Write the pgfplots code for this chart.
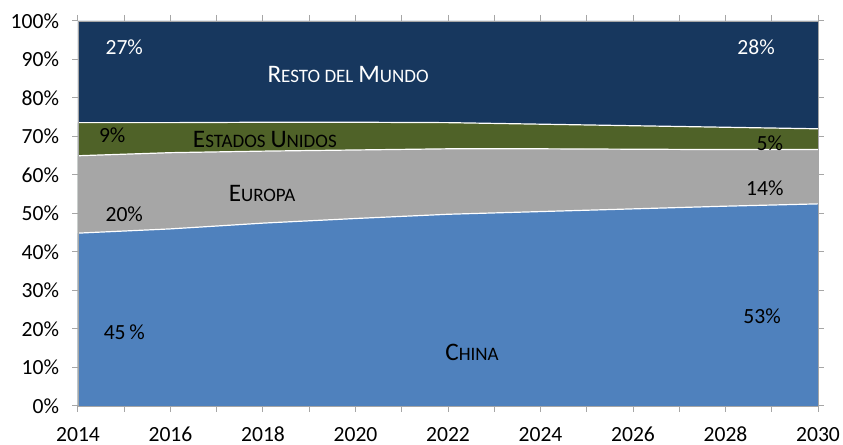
\documentclass[border=0pt]{standalone}
\usepackage{pgfplots}
\usepackage{pgfplotstable}
\pgfplotsset{compat=1.18}
\usepackage{fontspec}
\setmainfont{Carlito}
\definecolor{china}{RGB}{79,129,189}
\definecolor{europa}{RGB}{166,166,166}
\definecolor{eeuu}{RGB}{79,98,40}
\definecolor{resto}{RGB}{23,55,94}
\newcommand{\fsc}[2]{{\fontsize{12.6}{14}\selectfont #1}{\fontsize{9.5}{11}\selectfont #2}}
% cumulative tops of each band (%)
\pgfplotstableread{
year china europa eeuu resto
2014 44.9 65.0 73.6 100
2016 46.0 65.8 73.6 100
2018 47.5 66.2 73.7 100
2020 48.7 66.5 73.7 100
2022 49.8 66.8 73.6 100
2024 50.5 66.8 73.2 100
2026 51.2 66.7 72.8 100
2028 51.9 66.6 72.4 100
2030 52.5 66.6 72.0 100
}\shares
\begin{document}
\begin{tikzpicture}[font=\fontsize{10.8}{12}\selectfont]
\begin{axis}[
    scale only axis,
    width=370pt, height=192.5pt,
    xmin=2014, xmax=2030, ymin=0, ymax=100,
    xtick={2014,2016,...,2030},
    minor xtick={2015,2017,...,2029},
    ytick={0,10,...,100},
    tick align=outside,
    major tick length=3pt, minor tick length=3pt,
    tick style={gray!70, line width=0.5pt},
    axis line style={gray!70},
    xticklabel={\pgfmathprintnumber[1000 sep={}]{\tick}},
    xticklabel style={yshift=-4pt},
    yticklabel={\pgfmathprintnumber{\tick}\%},
    yticklabel style={xshift=-3pt},
    /pgf/number format/assume math mode=true,
    axis on top,
]
\addplot[fill=resto, draw=none] table[x=year, y=resto] {\shares} \closedcycle;
\addplot[fill=eeuu, draw=none] table[x=year, y=eeuu] {\shares} \closedcycle;
\addplot[fill=europa, draw=none] table[x=year, y=europa] {\shares} \closedcycle;
\addplot[fill=china, draw=none] table[x=year, y=china] {\shares} \closedcycle;
\addplot[white, line width=0.6pt] table[x=year, y=china] {\shares};
\addplot[white, line width=0.6pt] table[x=year, y=europa] {\shares};
\addplot[white, line width=0.6pt] table[x=year, y=eeuu] {\shares};
\node[text=white] at (axis cs:2015.0,93.2) {27\%};
\node[text=white] at (axis cs:2019.84,86) {\fsc{R}{ESTO DEL} \fsc{M}{UNDO}};
\node[text=white] at (axis cs:2028.66,93.2) {28\%};
\node[text=black] at (axis cs:2014.74,70.4) {9\%};
\node[text=black] at (axis cs:2018.04,69.1) {\fsc{E}{STADOS} \fsc{U}{NIDOS}};
\node[text=black] at (axis cs:2028.96,68.3) {5\%};
\node[text=black] at (axis cs:2017.98,55.1) {\fsc{E}{UROPA}};
\node[text=black] at (axis cs:2028.85,56.6) {14\%};
\node[text=black] at (axis cs:2015.0,49.9) {20\%};
\node[text=black] at (axis cs:2015.0,19.2) {45\,\%};
\node[text=black] at (axis cs:2022.52,14.0) {\fsc{C}{HINA}};
\node[text=black] at (axis cs:2028.79,23.4) {53\%};
\end{axis}
\pgfresetboundingbox
\path ([shift={(-39pt,-19.5pt)}]current axis.south west) rectangle ([shift={(12.5pt,10.5pt)}]current axis.north east);
\end{tikzpicture}
\end{document}
